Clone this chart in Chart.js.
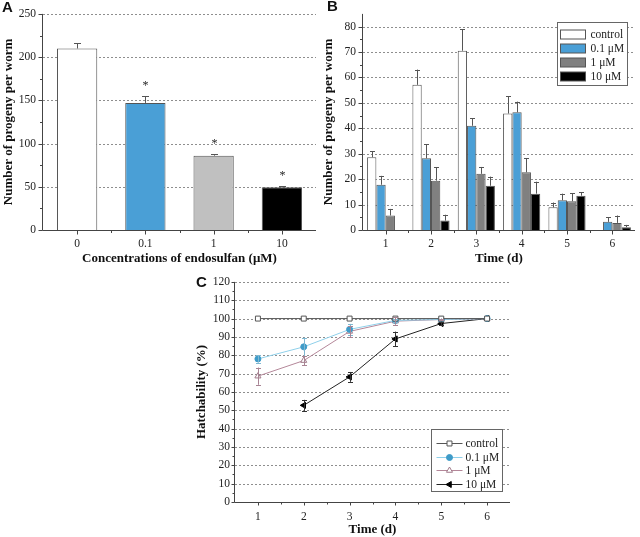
<!DOCTYPE html>
<html>
<head>
<meta charset="utf-8">
<script src="https://cdn.jsdelivr.net/npm/chart.js@4.4.0/dist/chart.umd.min.js"></script>
<style>
html, body { margin: 0; padding: 0; background: #fff; }
#wrap { position: relative; width: 640px; height: 537px; overflow: hidden; }
.box { position: absolute; }
.tag { position: absolute; font: bold 15px "Liberation Sans", Arial, sans-serif; line-height: 15px; color: #111; }
</style>
</head>
<body>
<div id="wrap">
  <div class="box" style="left:0;top:0;width:320px;height:270px"><canvas id="chartA"></canvas></div>
  <div class="box" style="left:320px;top:0;width:320px;height:270px"><canvas id="chartB"></canvas></div>
  <div class="box" style="left:180px;top:270px;width:340px;height:267px"><canvas id="chartC"></canvas></div>
  <div class="tag" style="left:2px;top:-1px">A</div>
  <div class="tag" style="left:327px;top:-2px">B</div>
  <div class="tag" style="left:196px;top:274px">C</div>
</div>
<script>
// panel A: total progeny by concentration
const concLabels = ['0', '0.1', '1', '10'];
const progenyTotal = [210, 147, 86, 49.5];
const progenyTotalErr = [6, 8, 1.5, 1];
const signifA = ['', '*', '*', '*'];
const ticksA = [0, 50, 100, 150, 200, 250];

// panel B: progeny per day
const dayLabels = ['1', '2', '3', '4', '5', '6'];
const progenyControl = [28.6, 57.1, 70.5, 45.8, 8.9, null];
const progenyControlErr = [2.3, 6, 8.5, 6.9, 1.9, 0];
const progeny01 = [17.8, 28.2, 41, 46.3, 11.7, 3.2];
const progeny01Err = [3.5, 5.5, 3, 4.2, 2.6, 1.9];
const progeny1 = [5.7, 19.4, 22.1, 22.7, 11.3, 2.8];
const progeny1Err = [2.6, 5.2, 2.7, 5.6, 3.2, 2.9];
const progeny10 = [null, 3.7, 17.4, 14.3, 13.5, 1.1];
const progeny10Err = [0, 2.3, 3.6, 4.7, 1.4, 0.9];
const ticksB = [0, 10, 20, 30, 40, 50, 60, 70, 80];

// panel C: hatchability
const days = [1, 2, 3, 4, 5, 6];
const hatchControl = [100, 100, 100, 100, 100, 100];
const hatch01 = [78, 84.6, 94.1, 99, 99.5, 100];
const hatch01Err = [2, 5, 3, 1, 0.5, 0];
const hatch1 = [68.6, 77.1, 93, 98.6, 99.5, 100];
const hatch1Err = [4.7, 2.5, 3, 2, 0.5, 0];
const hatch10 = [null, 52.7, 68.2, 88.9, 97.3, 100];
const hatch10Err = [0, 3, 2.7, 4, 1, 0];
const ticksC = [0, 10, 20, 30, 40, 50, 60, 70, 80, 90, 100, 110, 120];

Chart.defaults.font.family = '"Liberation Serif", "Times New Roman", serif';
Chart.defaults.font.size = 11.5;
Chart.defaults.color = '#222';
Chart.defaults.animation = false;

const serifBold = { family: '"Liberation Serif", "Times New Roman", serif', size: 13, weight: 'bold' };
const noGrid = { display: false, drawTicks: false };

function valOf(d) { return d !== null && typeof d === 'object' ? d.y : d; }

// grid, error bars, axes with outward ticks, legend
const panelPlugin = {
  id: 'panel',
  beforeDatasetsDraw(chart, args, o) {
    const { ctx, chartArea: a, scales: { y } } = chart;
    ctx.save();
    ctx.strokeStyle = '#8e8e8e';
    ctx.lineWidth = 1;
    ctx.setLineDash([2, 2]);
    y.ticks.forEach(t => {
      if (t.value === 0) return;
      const py = Math.round(y.getPixelForValue(t.value)) + 0.5;
      ctx.beginPath(); ctx.moveTo(a.left, py); ctx.lineTo(a.right, py); ctx.stroke();
    });
    ctx.restore();
  },
  afterDatasetsDraw(chart, args, o) {
    const { ctx, chartArea: a, scales: { x, y } } = chart;
    ctx.save();
    // error bars
    chart.data.datasets.forEach((ds, di) => {
      if (!ds.errors) return;
      const meta = chart.getDatasetMeta(di);
      ctx.strokeStyle = ds.errColor || '#555';
      ctx.lineWidth = 1;
      meta.data.forEach((el, i) => {
        const v = valOf(ds.data[i]);
        const e = ds.errors[i];
        if (v === null || v === undefined || !e) return;
        const px = Math.round(el.x) + 0.5;
        const top = y.getPixelForValue(v + e);
        const bot = o.bothWays ? y.getPixelForValue(v - e) : y.getPixelForValue(v);
        const cw = o.cap;
        ctx.beginPath();
        ctx.moveTo(px, bot); ctx.lineTo(px, top);
        ctx.moveTo(px - cw, Math.round(top) + 0.5); ctx.lineTo(px + cw, Math.round(top) + 0.5);
        if (o.bothWays) { ctx.moveTo(px - cw, Math.round(bot) + 0.5); ctx.lineTo(px + cw, Math.round(bot) + 0.5); }
        ctx.stroke();
        if (ds.marks && ds.marks[i]) {
          ctx.fillStyle = '#222';
          ctx.font = '12px "Liberation Serif", serif';
          ctx.textAlign = 'center';
          ctx.textBaseline = 'alphabetic';
          ctx.fillText(ds.marks[i], px, top - 7);
        }
      });
    });
    // axes
    ctx.strokeStyle = '#444';
    ctx.lineWidth = 1;
    const ax = Math.round(a.left) - 0.5;
    const ay = Math.round(a.bottom) + 0.5;
    ctx.beginPath();
    ctx.moveTo(ax, a.top); ctx.lineTo(ax, ay);
    ctx.lineTo(a.right, ay);
    y.ticks.forEach(t => {
      const py = Math.round(y.getPixelForValue(t.value)) + 0.5;
      ctx.moveTo(ax, py); ctx.lineTo(ax - o.major, py);
    });
    (o.yMinor || []).forEach(v => {
      const py = Math.round(y.getPixelForValue(v)) + 0.5;
      ctx.moveTo(ax, py); ctx.lineTo(ax - o.minor, py);
    });
    (o.xMajor || []).forEach(v => {
      const px = Math.round(x.getPixelForValue(v)) + 0.5;
      ctx.moveTo(px, ay); ctx.lineTo(px, ay + o.major);
    });
    (o.xMinor || []).forEach(v => {
      const px = Math.round(x.getPixelForValue(v)) + 0.5;
      ctx.moveTo(px, ay); ctx.lineTo(px, ay + o.minor);
    });
    ctx.stroke();
    ctx.restore();
  },
  afterDraw(chart, args, o) {
    const L = o.legend;
    if (!L) return;
    const { ctx, chartArea: a } = chart;
    const left = Math.round(a.right - L.right - L.width) + 0.5;
    const top = Math.round(L.top !== undefined ? a.top + L.top : a.bottom - L.bottom - L.height) + 0.5;
    ctx.save();
    ctx.fillStyle = '#fff';
    ctx.fillRect(left, top, L.width, L.height);
    ctx.strokeStyle = '#666';
    ctx.lineWidth = 1;
    ctx.strokeRect(left, top, L.width, L.height);
    ctx.font = '11.5px "Liberation Serif", serif';
    ctx.textBaseline = 'middle';
    ctx.textAlign = 'left';
    chart.data.datasets.forEach((ds, i) => {
      const cy = Math.round(top + L.first + i * L.step) + 0.5;
      if (L.kind === 'box') {
        ctx.fillStyle = ds.backgroundColor;
        ctx.fillRect(left + 3, cy - 4.5, 25, 9);
        ctx.strokeStyle = '#555';
        ctx.strokeRect(left + 3, cy - 4.5, 25, 9);
      } else {
        ctx.strokeStyle = ds.borderColor;
        ctx.beginPath(); ctx.moveTo(left + 5, cy); ctx.lineTo(left + 31, cy); ctx.stroke();
        ctx.fillStyle = ds.pointBackgroundColor;
        ctx.strokeStyle = ds.pointBorderColor;
        Chart.helpers.drawPoint(ctx, { pointStyle: ds.pointStyle, rotation: ds.pointRotation || 0, radius: ds.pointRadius, borderWidth: 1 }, left + 18, cy);
      }
      ctx.fillStyle = '#222';
      ctx.fillText(ds.label, left + L.textX, cy + 0.5);
    });
    ctx.restore();
  }
};

function fixedTicks(arr) {
  return scale => { scale.ticks = arr.map(v => ({ value: v })); };
}

// ---------- A ----------
new Chart(document.getElementById('chartA'), {
  type: 'bar',
  plugins: [panelPlugin],
  data: {
    labels: concLabels,
    datasets: [{
      data: progenyTotal,
      errors: progenyTotalErr,
      marks: signifA,
      backgroundColor: ['#ffffff', '#4a9fd6', '#c0c0c0', '#000000'],
      borderColor: '#555',
      borderWidth: 1,
      barPercentage: 1,
      categoryPercentage: 0.59
    }]
  },
  options: {
    responsive: true,
    maintainAspectRatio: false,
    layout: { padding: { top: 7, right: 4, left: 0, bottom: 0 } },
    plugins: {
      legend: { display: false },
      tooltip: { enabled: false },
      panel: { cap: 3.5, major: 4, minor: 2.5, yMinor: [25, 75, 125, 175, 225], xMajor: [0, 1, 2, 3], xMinor: [0.5, 1.5, 2.5] }
    },
    scales: {
      x: {
        grid: noGrid, border: { display: false },
        ticks: { padding: 7 },
        title: { display: true, text: 'Concentrations of endosulfan (\u03bcM)', font: serifBold, color: '#111' },
        afterFit: s => { s.height = 40; }
      },
      y: {
        min: 0, max: 250,
        grid: noGrid, border: { display: false },
        ticks: { padding: 7 },
        afterBuildTicks: fixedTicks(ticksA),
        title: { display: true, text: 'Number of progeny per worm', font: serifBold, color: '#111', padding: { top: 1, bottom: 0 } },
        afterFit: s => { s.width = 43; }
      }
    }
  }
});

// ---------- B ----------
function barSet(label, data, err, color) {
  return { label, data, errors: err, backgroundColor: color, borderColor: '#555', borderWidth: 1, barPercentage: 1, categoryPercentage: 0.82 };
}
new Chart(document.getElementById('chartB'), {
  type: 'bar',
  plugins: [panelPlugin],
  data: {
    labels: dayLabels,
    datasets: [
      barSet('control', progenyControl, progenyControlErr, '#ffffff'),
      barSet('0.1 \u03bcM', progeny01, progeny01Err, '#4a9fd6'),
      barSet('1 \u03bcM', progeny1, progeny1Err, '#808080'),
      barSet('10 \u03bcM', progeny10, progeny10Err, '#000000')
    ]
  },
  options: {
    responsive: true,
    maintainAspectRatio: false,
    layout: { padding: { top: 7, right: 5, left: 0, bottom: 0 } },
    plugins: {
      legend: { display: false },
      tooltip: { enabled: false },
      panel: {
        cap: 2.5, major: 4, minor: 2.5,
        yMinor: [5, 15, 25, 35, 45, 55, 65, 75],
        xMajor: [0, 1, 2, 3, 4, 5], xMinor: [0.5, 1.5, 2.5, 3.5, 4.5],
        legend: { kind: 'box', right: 8, top: 8, width: 70, height: 63, first: 11, step: 14.2, textX: 33 }
      }
    },
    scales: {
      x: {
        grid: noGrid, border: { display: false },
        ticks: { padding: 7 },
        title: { display: true, text: 'Time (d)', font: serifBold, color: '#111' },
        afterFit: s => { s.height = 40; }
      },
      y: {
        min: 0, max: 85,
        grid: noGrid, border: { display: false },
        ticks: { padding: 7 },
        afterBuildTicks: fixedTicks(ticksB),
        title: { display: true, text: 'Number of progeny per worm', font: serifBold, color: '#111', padding: { top: 1, bottom: 0 } },
        afterFit: s => { s.width = 43; }
      }
    }
  }
});

// ---------- C ----------
function pts(vals) { return days.map((d, i) => ({ x: d, y: vals[i] })); }
new Chart(document.getElementById('chartC'), {
  type: 'line',
  plugins: [panelPlugin],
  data: {
    datasets: [
      { label: 'control', data: pts(hatchControl), borderColor: '#555', borderWidth: 1,
        pointStyle: 'rect', pointRadius: 3.5, pointBackgroundColor: '#fff', pointBorderColor: '#555', pointBorderWidth: 1 },
      { label: '0.1 \u03bcM', data: pts(hatch01), errors: hatch01Err, errColor: '#7fb8d2', borderColor: '#8fd0ea', borderWidth: 1,
        pointStyle: 'circle', pointRadius: 3, pointBackgroundColor: '#3f9bc8', pointBorderColor: '#3f9bc8', pointBorderWidth: 1 },
      { label: '1 \u03bcM', data: pts(hatch1), errors: hatch1Err, errColor: '#a88494', borderColor: '#b48799', borderWidth: 1,
        pointStyle: 'triangle', pointRadius: 3.5, pointBackgroundColor: '#fff', pointBorderColor: '#a07a8a', pointBorderWidth: 1 },
      { label: '10 \u03bcM', data: pts(hatch10), errors: hatch10Err, errColor: '#333', borderColor: '#222', borderWidth: 1,
        pointStyle: 'triangle', pointRotation: -90, pointRadius: 3.5, pointBackgroundColor: '#000', pointBorderColor: '#000', pointBorderWidth: 1 }
    ]
  },
  options: {
    responsive: true,
    maintainAspectRatio: false,
    spanGaps: false,
    layout: { padding: { top: 8, right: 10, left: 10, bottom: 0 } },
    elements: { line: { tension: 0 } },
    plugins: {
      legend: { display: false },
      tooltip: { enabled: false },
      panel: {
        cap: 2.5, major: 3, minor: 2, bothWays: true,
        yMinor: [5, 15, 25, 35, 45, 55, 65, 75, 85, 95, 105, 115],
        xMajor: days, xMinor: [1.5, 2.5, 3.5, 4.5, 5.5],
        legend: { kind: 'line', right: 8, bottom: 11, width: 71, height: 62, first: 13.5, step: 13.5, textX: 34 }
      }
    },
    scales: {
      x: {
        type: 'linear', min: 0.5, max: 6.5,
        grid: noGrid, border: { display: false },
        ticks: { padding: 8 },
        afterBuildTicks: fixedTicks(days),
        title: { display: true, text: 'Time (d)', font: serifBold, color: '#111', padding: { top: 0, bottom: 0 } },
        afterFit: s => { s.height = 35; }
      },
      y: {
        min: 0, max: 120,
        grid: noGrid, border: { display: false },
        ticks: { padding: 5 },
        afterBuildTicks: fixedTicks(ticksC),
        title: { display: true, text: 'Hatchability (%)', font: serifBold, color: '#111' },
        afterFit: s => { s.width = 45; }
      }
    }
  }
});
</script>
</body>
</html>
